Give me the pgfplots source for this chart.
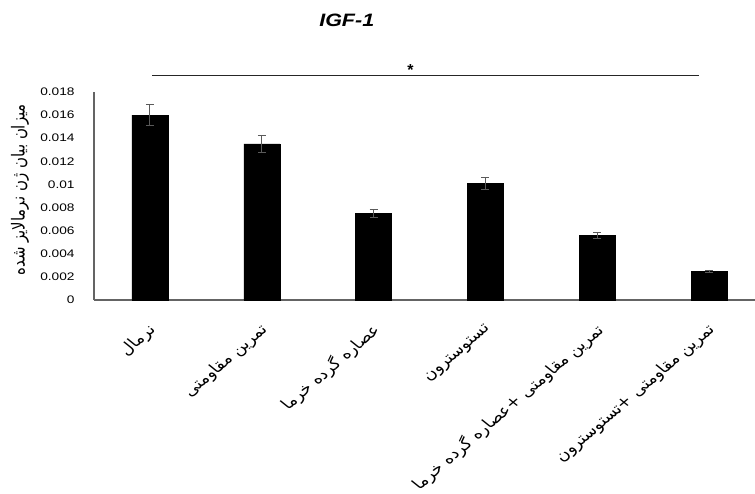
\documentclass[border=0pt]{standalone}
\usepackage{fontspec}
\setmainfont{Liberation Sans}
\newfontfamily\arabicfont[Script=Arabic]{DejaVu Sans}
\TeXXeTstate=1
\usepackage{pgfplots}
\pgfplotsset{compat=1.18}
\definecolor{axgray}{RGB}{100,100,100}
\definecolor{errgray}{RGB}{90,90,90}
\begin{document}
\begin{tikzpicture}
\begin{axis}[
  at={(94bp,194bp)}, anchor=south west,
  scale only axis,
  width=661bp, height=208bp,
  xmin=-0.5, xmax=5.41,
  ymin=0, ymax=0.018,
  axis x line*=bottom, axis y line*=left,
  axis line style={axgray, line width=1.1pt},
  x axis line style={-}, y axis line style={-},
  major tick length=0pt,
  scaled y ticks=false,
  xtick={0,1,2,3,4,5},
  xticklabels={
    {\arabicfont\beginR نرمال\endR},
    {\arabicfont\beginR تمرین مقاومتی\endR},
    {\arabicfont\beginR عصاره گرده خرما\endR},
    {\arabicfont\beginR تستوسترون\endR},
    {\arabicfont\beginR تمرین مقاومتی +عصاره گرده خرما\endR},
    {\arabicfont\beginR تمرین مقاومتی +تستوسترون\endR}},
  xticklabel style={font=\fontsize{15}{17}\selectfont, xscale=1.2, rotate=46, anchor=east, inner sep=1pt, yshift=-21bp, xshift=-17bp},
  ytick={0,0.002,0.004,0.006,0.008,0.01,0.012,0.014,0.016,0.018},
  yticklabels={0,0.002,0.004,0.006,0.008,0.01,0.012,0.014,0.016,0.018},
  yticklabel style={font=\fontsize{11}{13}\selectfont, xscale=1.25, anchor=east, xshift=-12bp},
  /pgf/number format/assume math mode=true,
  clip=false,
]
\addplot[ybar, bar width=36bp, fill=black, draw=black,
  error bars/.cd, y dir=both, y explicit,
  error bar style={errgray, line width=0.9pt},
  error mark options={rotate=90, mark size=4bp, errgray, line width=0.9pt}]
  coordinates {
   (0,0.0160) +- (0,0.0009)
   (1,0.0135) +- (0,0.0007)
   (2,0.0075) +- (0,0.00035)
   (3,0.0101) +- (0,0.0005)
   (4,0.0056) +- (0,0.00025)
   (5,0.0025) +- (0,0.0001)
  };
\draw[black!85, line width=1.2pt] (axis cs:0.02,0.0194) -- (axis cs:4.91,0.0194);
\node[font=\bfseries\fontsize{16}{18}\selectfont] at (axis cs:2.33,0.0199) {*};
\node[font=\bfseries\itshape\fontsize{18}{20}\selectfont, xscale=1.2] at (axis cs:1.76,0.02423) {IGF-1};
\node[font=\arabicfont\fontsize{15}{17}\selectfont, xscale=1.2, rotate=90] at (rel axis cs:-0.112,0.53) {\beginR میزان بیان ژن نرمالایز شده\endR};
\end{axis}
\pgfresetboundingbox
\path[use as bounding box] (0,0) rectangle (755bp,494bp);
\end{tikzpicture}
\end{document}
